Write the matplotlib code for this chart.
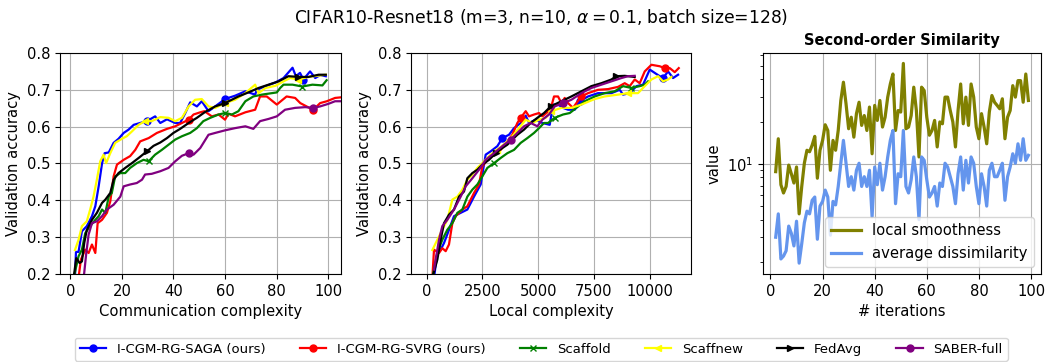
import numpy as np
import matplotlib
matplotlib.use('Agg')
import matplotlib.pyplot as plt
from matplotlib.ticker import NullFormatter

# ---- panel 1: accuracy vs communication complexity ----
blue_c = [1.8, 2.2, 3.2, 4.5, 6.4, 8.4, 9.7, 11.0, 12.3, 13.3, 14.9, 16.8, 18.7, 20.7, 22.6, 24.6, 27.1, 29.7, 32.9, 34.9,
          37.5, 40.7, 42.6, 44.6, 46.5, 49.1, 51.0, 53.6, 56.2, 60.0, 63.9, 67.9, 71.7, 72.3, 75.7, 79.6, 82.7, 86.2, 87.5,
          89.1, 90.4, 93.0, 95.0, 96.9, 99.1]
blue_a = [0.19, 0.26, 0.26, 0.316, 0.33, 0.357, 0.384, 0.438, 0.50, 0.528, 0.53, 0.556, 0.567, 0.583, 0.592, 0.605, 0.61,
          0.615, 0.628, 0.61, 0.62, 0.61, 0.61, 0.637, 0.666, 0.655, 0.669, 0.642, 0.655, 0.675, 0.684, 0.696, 0.687, 0.70,
          0.71, 0.72, 0.732, 0.76, 0.737, 0.746, 0.728, 0.75, 0.732, 0.74, 0.737]
red_c = [3.2, 4.1, 5.8, 7.1, 8.4, 9.7, 10.6, 12.3, 14.2, 15.5, 16.8, 18.1, 20.7, 23.2, 25.2, 27.1, 30.4, 33.6, 37.5, 40.7,
         43.3, 45.9, 47.8, 50.4, 52.0, 54.9, 57.5, 60.0, 61.4, 63.9, 67.9, 71.7, 73.6, 76.2, 80.1, 83.9, 87.2, 89.2, 93.0,
         94.3, 96.9, 99.5, 102.7, 105.5]
red_a = [0.19, 0.239, 0.266, 0.257, 0.28, 0.257, 0.338, 0.347, 0.366, 0.397, 0.465, 0.497, 0.51, 0.52, 0.537, 0.56, 0.569,
         0.583, 0.594, 0.601, 0.61, 0.619, 0.633, 0.639, 0.642, 0.628, 0.633, 0.619, 0.635, 0.628, 0.639, 0.646, 0.682, 0.682,
         0.66, 0.682, 0.678, 0.664, 0.65, 0.646, 0.664, 0.669, 0.678, 0.68]
green_c = [1.3, 3.2, 4.5, 5.8, 7.7, 9.7, 11.0, 12.3, 13.6, 14.9, 16.1, 17.4, 19.4, 21.3, 23.2, 25.8, 28.4, 30.4, 32.9, 35.5,
           38.1, 40.7, 43.3, 46.5, 49.1, 51.6, 54.3, 57.5, 60.0, 62.7, 65.2, 67.9, 71.0, 74.3, 78.2, 80.1, 81.4, 82.7, 86.2,
           90.0, 93.9, 97.8, 99.4]
green_a = [0.19, 0.248, 0.266, 0.311, 0.33, 0.347, 0.357, 0.375, 0.366, 0.41, 0.42, 0.465, 0.474, 0.474, 0.488, 0.501, 0.51,
           0.506, 0.524, 0.537, 0.551, 0.565, 0.574, 0.583, 0.596, 0.615, 0.624, 0.633, 0.637, 0.633, 0.642, 0.669, 0.682,
           0.687, 0.691, 0.693, 0.705, 0.714, 0.714, 0.709, 0.714, 0.712, 0.726]
yellow_c = [1.8, 3.2, 4.5, 6.4, 7.7, 9.0, 10.3, 11.6, 12.9, 13.9, 15.5, 17.4, 20.0, 21.9, 23.9, 26.5, 29.0, 31.6, 34.9, 38.1,
            40.7, 43.3, 45.9, 48.4, 51.0, 53.6, 56.2, 60.0, 63.9, 67.9, 71.7, 73.0, 75.7, 79.6, 82.7, 85.3, 88.5, 92.4, 95.6,
            99.1]
yellow_a = [0.265, 0.293, 0.33, 0.343, 0.375, 0.41, 0.456, 0.506, 0.524, 0.501, 0.528, 0.556, 0.567, 0.574, 0.587, 0.605,
            0.615, 0.615, 0.626, 0.624, 0.615, 0.624, 0.655, 0.673, 0.675, 0.655, 0.651, 0.664, 0.673, 0.691, 0.714, 0.691,
            0.705, 0.711, 0.723, 0.732, 0.728, 0.735, 0.738, 0.741]
black_c = [1.3, 2.3, 3.6, 4.5, 5.4, 6.4, 8.4, 10.3, 12.3, 13.6, 15.5, 16.8, 18.7, 21.3, 23.9, 26.5, 29.7, 32.3, 34.9, 37.5,
           40.0, 42.6, 45.9, 49.1, 52.3, 56.2, 60.0, 65.2, 69.1, 73.0, 76.9, 80.8, 84.6, 88.5, 92.4, 96.3, 99.1]
black_a = [0.19, 0.243, 0.23, 0.234, 0.284, 0.32, 0.347, 0.366, 0.393, 0.402, 0.42, 0.456, 0.474, 0.488, 0.501, 0.515, 0.533,
           0.548, 0.557, 0.569, 0.583, 0.594, 0.61, 0.624, 0.64, 0.655, 0.664, 0.682, 0.693, 0.705, 0.714, 0.723, 0.737,
           0.735, 0.735, 0.741, 0.741]
purple_c = [5.2, 6.2, 7.1, 8.4, 10.3, 12.3, 14.2, 16.8, 19.4, 20.7, 23.2, 25.8, 27.8, 29.0, 31.6, 34.9, 38.1, 40.7, 43.3,
            45.9, 47.8, 50.4, 53.6, 56.2, 60.0, 63.9, 67.9, 71.0, 73.6, 76.9, 80.1, 83.3, 87.2, 91.1, 94.3, 96.9, 100.1,
            102.7, 105.5]
purple_a = [0.19, 0.257, 0.307, 0.338, 0.343, 0.357, 0.375, 0.388, 0.41, 0.438, 0.443, 0.447, 0.456, 0.47, 0.472, 0.479,
            0.488, 0.506, 0.521, 0.528, 0.524, 0.542, 0.578, 0.583, 0.59, 0.596, 0.601, 0.594, 0.615, 0.621, 0.628, 0.646,
            0.651, 0.653, 0.651, 0.655, 0.662, 0.669, 0.669]

# ---- panel 2: accuracy vs local complexity ----
blue_l = [330, 478, 628, 777, 1001, 1225, 1524, 1824, 2122, 2421, 2645, 2869, 3168, 3393, 3691, 3916, 4215, 4439, 4589,
          4888, 5187, 5516, 5665, 5889, 6114, 6338, 6637, 6860, 7234, 7682, 8280, 8654, 8803, 9102, 9401, 9700, 9999,
          10223, 10447, 10597, 10821, 11045, 11270]
blue_la = [0.19, 0.257, 0.266, 0.284, 0.32, 0.357, 0.366, 0.375, 0.41, 0.443, 0.524, 0.533, 0.547, 0.569, 0.578, 0.596,
           0.61, 0.63, 0.61, 0.619, 0.61, 0.605, 0.66, 0.66, 0.651, 0.646, 0.646, 0.669, 0.682, 0.691, 0.691, 0.70, 0.687,
           0.691, 0.71, 0.714, 0.755, 0.746, 0.737, 0.732, 0.75, 0.732, 0.741]
red_l = [255, 329, 552, 702, 852, 1000, 1151, 1300, 1600, 1824, 2122, 2346, 2496, 2720, 3019, 3318, 3617, 3841, 4065, 4215,
         4439, 4589, 4813, 5037, 5187, 5411, 5590, 5709, 5889, 6039, 6188, 6338, 6562, 6711, 6935, 7234, 7682, 8131, 8579,
         8878, 9102, 9326, 9550, 9775, 10074, 10447, 10672, 10896, 11120, 11300]
red_la = [0.19, 0.266, 0.257, 0.27, 0.262, 0.28, 0.338, 0.357, 0.375, 0.384, 0.42, 0.443, 0.492, 0.51, 0.524, 0.537, 0.56,
          0.578, 0.61, 0.624, 0.642, 0.628, 0.633, 0.637, 0.628, 0.639, 0.655, 0.682, 0.682, 0.664, 0.678, 0.664, 0.651,
          0.664, 0.682, 0.691, 0.70, 0.702, 0.708, 0.718, 0.71, 0.728, 0.718, 0.75, 0.768, 0.764, 0.759, 0.759, 0.748, 0.759]
green_l = [255, 478, 702, 926, 1151, 1375, 1600, 1824, 2048, 2272, 2496, 2720, 3019, 3318, 3617, 3916, 4215, 4514, 4813,
           5037, 5261, 5441, 5740, 6114, 6413, 6711, 7085, 7532, 7980, 8429, 8803, 9177, 9550, 9775, 9924]
green_la = [0.19, 0.257, 0.293, 0.32, 0.338, 0.366, 0.375, 0.41, 0.429, 0.443, 0.465, 0.488, 0.501, 0.515, 0.528, 0.537,
            0.556, 0.569, 0.583, 0.596, 0.61, 0.61, 0.624, 0.633, 0.637, 0.651, 0.669, 0.682, 0.691, 0.696, 0.71, 0.705,
            0.71, 0.714, 0.723]
yellow_l = [255, 478, 702, 926, 1151, 1375, 1600, 1824, 2048, 2272, 2496, 2869, 3168, 3542, 3841, 4140, 4439, 4738, 5037,
            5336, 5590, 6039, 6487, 6935, 7532, 7980, 8579, 9027, 9475, 9775, 10074, 10372, 10597, 10821, 10970]
yellow_la = [0.265, 0.293, 0.32, 0.347, 0.402, 0.41, 0.429, 0.456, 0.47, 0.488, 0.501, 0.524, 0.537, 0.556, 0.574, 0.596,
             0.619, 0.61, 0.619, 0.624, 0.642, 0.651, 0.651, 0.66, 0.675, 0.682, 0.687, 0.691, 0.691, 0.71, 0.728, 0.737,
             0.723, 0.728, 0.735]
black_l = [255, 478, 628, 777, 1001, 1225, 1450, 1674, 1824, 2048, 2272, 2496, 2795, 3093, 3393, 3617, 3841, 4065, 4364,
           4663, 4962, 5261, 5560, 6039, 6487, 6935, 7383, 7831, 8280, 8504, 8878, 9326]
black_la = [0.19, 0.239, 0.293, 0.338, 0.361, 0.375, 0.41, 0.424, 0.46, 0.474, 0.483, 0.497, 0.51, 0.528, 0.542, 0.551,
            0.565, 0.578, 0.592, 0.61, 0.624, 0.637, 0.655, 0.669, 0.682, 0.696, 0.71, 0.718, 0.728, 0.737, 0.738, 0.735]
purple_l = [329, 552, 702, 926, 1225, 1524, 1749, 2048, 2346, 2645, 3019, 3393, 3766, 4065, 4364, 4663, 4962, 5187, 5486,
            5740, 6114, 6487, 6935, 7383, 7831, 8280, 8729, 9027, 9326]
purple_la = [0.212, 0.293, 0.33, 0.347, 0.375, 0.41, 0.438, 0.46, 0.483, 0.51, 0.528, 0.547, 0.565, 0.583, 0.601, 0.61,
             0.601, 0.619, 0.633, 0.655, 0.664, 0.673, 0.691, 0.705, 0.714, 0.723, 0.732, 0.737, 0.738]

# ---- panel 3: second-order similarity ----
iters = np.arange(2, 100)
smoothness = [8.8, 15.1, 7.1, 6.2, 6.9, 9.8, 8.5, 7.3, 9.5, 4.4,
              6.9, 10.1, 12.5, 12.2, 13.6, 15.7, 7.9, 12.5, 14.7, 19.0,
              17.3, 9.0, 14.7, 12.5, 17.3, 28.3, 38.2, 26.8, 17.8, 21.5,
              15.5, 22.8, 27.5, 18.8, 22.1, 17.3, 25.4, 11.8, 26.1, 20.4,
              28.3, 18.3, 21.5, 29.9, 37.1, 43.7, 17.3, 24.0, 23.4, 52.0,
              17.8, 18.3, 22.1, 35.2, 24.0, 11.2, 35.2, 33.3, 21.5, 16.0,
              17.3, 20.4, 13.2, 19.9, 19.3, 29.9, 29.9, 24.0, 19.9, 13.2,
              24.0, 37.1, 19.3, 29.9, 18.8, 37.1, 29.9, 18.3, 15.1, 22.8,
              18.3, 13.9, 23.4, 30.7, 27.5, 26.1, 24.7, 29.1, 15.1, 21.5,
              24.0, 36.1, 29.9, 39.2, 39.2, 27.5, 43.7, 28.3]
dissimilarity = [3.0, 4.4, 2.1, 2.2, 2.4, 3.6, 3.2, 2.6, 3.9, 1.96,
                 2.7, 3.8, 4.6, 4.4, 5.5, 5.8, 2.9, 5.0, 5.4, 6.5,
                 5.8, 3.1, 5.4, 5.1, 6.9, 10.1, 14.7, 10.1, 6.9, 8.1,
                 6.5, 9.0, 10.1, 6.9, 8.1, 6.9, 9.0, 4.2, 9.5, 7.1,
                 10.1, 6.5, 8.1, 11.2, 14.7, 17.3, 5.2, 8.5, 8.1, 17.3,
                 6.9, 6.2, 7.7, 11.2, 8.1, 4.0, 11.2, 10.6, 7.7, 5.8,
                 6.2, 6.9, 5.0, 7.3, 6.9, 10.1, 9.5, 8.1, 6.9, 5.2,
                 8.5, 11.2, 6.5, 10.6, 7.3, 11.2, 10.1, 6.9, 5.2, 8.5,
                 6.9, 5.0, 9.0, 10.1, 8.1, 8.1, 9.0, 10.1, 5.5, 8.1,
                 9.5, 11.8, 10.1, 13.9, 10.6, 15.1, 10.6, 11.5]

methods = ['I-CGM-RG-SAGA (ours)', 'I-CGM-RG-SVRG (ours)', 'Scaffold', 'Scaffnew', 'FedAvg', 'SABER-full']
colors = ['blue', 'red', 'green', 'yellow', 'black', 'purple']
markers = ['o', 'o', 'x', '<', '>', 'o']
comm = [(blue_c, blue_a), (red_c, red_a), (green_c, green_a), (yellow_c, yellow_a), (black_c, black_a), (purple_c, purple_a)]
local = [(blue_l, blue_la), (red_l, red_la), (green_l, green_la), (yellow_l, yellow_la), (black_l, black_la),
         (purple_l, purple_la)]
marks_comm = [[30, 60, 90], [46, 94], [30, 60, 90], [30, 60, 90], [30, 60, 90], [46, 94]]
marks_local = [[3400, 6860, 10597], [4215, 6935, 10672], [3019, 5740, 9177], [3168, 5590, 9027], [3093, 5560, 8504],
               [3766, 6114]]


def nearest(xs, targets):
    xs = np.asarray(xs)
    return [int(np.argmin(np.abs(xs - t))) for t in targets]


FS = 10.6

fig = plt.figure(figsize=(10.47, 3.62), dpi=100)
ax1 = fig.add_axes([0.0573, 0.2431, 0.2684, 0.6105])
ax2 = fig.add_axes([0.3926, 0.2431, 0.2674, 0.6105])
ax3 = fig.add_axes([0.7288, 0.2431, 0.2655, 0.6105])

handles = []
for i in range(len(methods)):
    x, y = comm[i]
    h, = ax1.plot(x, y, color=colors[i], lw=1.6, marker=markers[i], ms=5, markevery=nearest(x, marks_comm[i]),
                  label=methods[i])
    handles.append(h)
    x, y = local[i]
    ax2.plot(x, y, color=colors[i], lw=1.6, marker=markers[i], ms=5, markevery=nearest(x, marks_local[i]))

for ax in (ax1, ax2):
    ax.set_ylim(0.2, 0.8)
    ax.set_ylabel('Validation accuracy', fontsize=FS)
    ax.grid(True)
    ax.tick_params(labelsize=FS)
ax1.set_xlim(-4, 105)
ax1.set_xticks([0, 20, 40, 60, 80, 100])
ax1.set_xlabel('Communication complexity', fontsize=FS)
ax2.set_xlim(-700, 11850)
ax2.set_xticks([0, 2500, 5000, 7500, 10000])
ax2.set_xlabel('Local complexity', fontsize=FS)

ax3.plot(iters, smoothness, color='olive', lw=2.3, label='local smoothness')
ax3.plot(iters, dissimilarity, color='cornflowerblue', lw=2.3, label='average dissimilarity')
ax3.set_yscale('log')
ax3.set_ylim(1.64, 61.7)
ax3.yaxis.set_minor_formatter(NullFormatter())
ax3.set_xticks([0, 20, 40, 60, 80, 100])
ax3.grid(True)
ax3.tick_params(labelsize=FS)
ax3.set_xlabel('# iterations', fontsize=FS)
ax3.set_ylabel('value', fontsize=FS)
ax3.set_title('Second-order Similarity', fontsize=10.5, fontweight='bold')
ax3.legend(loc='lower right', fontsize=FS)

fig.suptitle(r'CIFAR10-Resnet18 (m=3, n=10, $\alpha=0.1$, batch size=128)', fontsize=12.3, x=0.517, y=0.953,
             va='center')
fig.legend(handles, methods, loc='center', bbox_to_anchor=(0.517, 0.035), ncol=6, fontsize=9.5,
           columnspacing=2.6, handlelength=2)

fig.savefig('out.png', dpi=100)
